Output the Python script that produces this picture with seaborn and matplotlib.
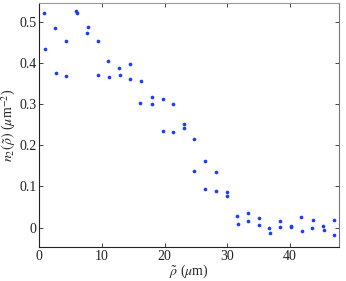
import matplotlib
matplotlib.use("Agg")
import matplotlib.pyplot as plt
import seaborn as sns
import pandas as pd

rho = [0.80, 0.86, 2.56, 2.62, 4.27, 4.22, 5.91, 6.02, 7.73, 7.62,
       9.33, 9.42, 11.02, 11.13, 12.78, 12.84, 14.54, 14.49, 16.25, 16.13,
       18.0, 17.89, 19.65, 19.71, 21.36, 21.31, 23.07, 23.0, 24.71, 24.71,
       26.47, 26.42, 28.23, 28.18, 29.87, 29.94, 31.58, 31.63, 33.34, 33.29,
       35.05, 34.98, 36.69, 36.74, 38.40, 38.45, 40.10, 40.16, 41.80, 41.92,
       43.61, 43.56, 45.21, 45.32, 46.92, 46.96]
n2 = [0.522, 0.433, 0.484, 0.376, 0.454, 0.367, 0.525, 0.520, 0.487, 0.473,
      0.454, 0.370, 0.405, 0.365, 0.387, 0.370, 0.398, 0.361, 0.356, 0.303,
      0.316, 0.301, 0.313, 0.234, 0.299, 0.233, 0.252, 0.243, 0.216, 0.137,
      0.161, 0.094, 0.134, 0.089, 0.086, 0.077, 0.028, 0.009, 0.036, 0.017,
      0.023, 0.007, 0.000, -0.012, 0.015, 0.002, 0.004, 0.002, 0.027, -0.007,
      0.019, -0.002, 0.004, -0.005, 0.019, -0.019]

x_ticks = [0, 10, 20, 30, 40]
y_ticks = [0, 0.1, 0.2, 0.3, 0.4, 0.5]
y_tick_labels = ["0", "0.1", "0.2", "0.3", "0.4", "0.5"]

df = pd.DataFrame({"rho": rho, "n2": n2})

sns.set_theme(style="ticks")
plt.rcParams["font.family"] = ["Liberation Serif", "DejaVu Serif"]
plt.rcParams["mathtext.fontset"] = "stix"

fig = plt.figure(figsize=(3.46, 2.81), dpi=100)
ax = fig.add_axes([0.1136, 0.121, 0.980 - 0.1136, 0.989 - 0.121])
sns.scatterplot(data=df, x="rho", y="n2", ax=ax, color="#1a3cff",
                s=7, linewidth=0, marker="o")

ax.set_xlim(0, 47.8)
ax.set_ylim(-0.047, 0.545)
ax.set_xticks(x_ticks)
ax.set_yticks(y_ticks)
ax.set_yticklabels(y_tick_labels)
ax.tick_params(direction="in", top=True, right=True, length=3, width=0.6,
               labelsize=10, colors="#222222", pad=2)
for sp in ax.spines.values():
    sp.set_visible(True)
    sp.set_linewidth(0.8)
    sp.set_color("#222222")
ax.spines["top"].set_color("#999999")
ax.spines["right"].set_color("#777777")

ax.set_xlabel(r"$\tilde{\rho}$ ($\mu$m)", fontsize=10, labelpad=0)
ax.set_ylabel(r"$n_2(\tilde{\rho})$ ($\mu$m$^{-2}$)", fontsize=10, labelpad=1)

fig.savefig("out.png", dpi=100)
